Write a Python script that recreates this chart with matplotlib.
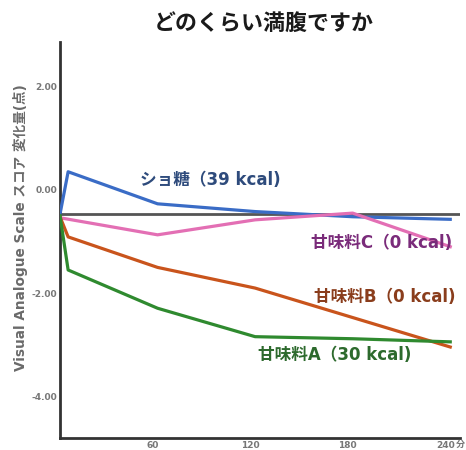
import matplotlib
matplotlib.use("Agg")
import matplotlib.pyplot as plt
import matplotlib.transforms as mtransforms

FAMILY = ['DejaVu Sans', 'Noto Sans CJK JP']
plt.rcParams['font.family'] = FAMILY

# Time after intake (minutes)
minutes = [0, 5, 60, 120, 180, 240]
minutes_c = [0, 60, 120, 180, 240]

# VAS fullness score change (points)
sucrose = [-0.47, 0.35, -0.27, -0.42, -0.52, -0.57]
sweetener_c = [-0.54, -0.87, -0.58, -0.45, -1.10]
sweetener_b = [-0.52, -0.91, -1.50, -1.90, -2.47, -3.04]
sweetener_a = [-0.50, -1.55, -2.29, -2.84, -2.88, -2.94]
baseline = -0.47

x_ticks = [60, 120, 180, 240]
x_ticklabels = ["60", "120", "180", "240"]
y_ticks = [2.0, 0.0, -2.0, -4.0]
y_ticklabels = ["2.00", "0.00", "-2.00", "-4.00"]

fig = plt.figure(figsize=(4.66, 4.5), dpi=100)
ax = fig.add_axes([60/466, 12/450, 400/466, 396/450])

ax.axhline(baseline, color="#555555", lw=2.0, zorder=1)
ax.plot(minutes, sucrose, color="#3a6cc6", lw=2.3, zorder=3)
ax.plot(minutes_c, sweetener_c, color="#e36fb4", lw=2.3, zorder=3)
ax.plot(minutes, sweetener_b, color="#c9541c", lw=2.3, zorder=3)
ax.plot(minutes, sweetener_a, color="#2f8a2f", lw=2.3, zorder=3)

ax.set_xlim(0, 246)
ax.set_ylim(-4.8, 2.86)

ax.set_xticks(x_ticks)
ax.set_xticklabels(x_ticklabels)
ax.set_yticks(y_ticks)
ax.set_yticklabels(y_ticklabels)
ax.tick_params(length=0, labelsize=6.5, labelcolor="#777777", pad=2)
shift = mtransforms.ScaledTranslation(-5/100, 0, fig.dpi_scale_trans)
for lab in ax.get_xticklabels():
    lab.set_fontweight("bold")
    lab.set_transform(lab.get_transform() + shift)
for lab in ax.get_yticklabels():
    lab.set_fontweight("bold")

for side in ("top", "right"):
    ax.spines[side].set_visible(False)
for side in ("left", "bottom"):
    ax.spines[side].set_color("#333333")
    ax.spines[side].set_linewidth(2.0)

fig.text(456/466, 1 - 444/450, "分", ha="left", va="center",
         fontsize=6.5, color="#777777", fontweight="bold")

ax.set_ylabel("Visual Analogue Scale スコア 変化量(点)", fontsize=9.8,
              color="#6a6a6a", fontweight="bold")
ax.yaxis.set_label_coords(-0.08, 0.53)

fig.text(0.565, 0.947, "どのくらい満腹ですか", ha="center", va="center",
         fontsize=15.8, fontweight="bold", color="#1a1a1a")

label_kw = dict(fontsize=12, fontweight="bold", va="center")
ax.text(49, 0.19, "ショ糖（39 kcal)", color="#2e4b7c", ha="left", **label_kw)
ax.text(241, -1.03, "甘味料C（0 kcal)", color="#7a2b7a", ha="right", **label_kw)
ax.text(243, -2.07, "甘味料B（0 kcal)", color="#8a3d1c", ha="right", **label_kw)
ax.text(122, -3.19, "甘味料A（30 kcal)", color="#2d6a2d", ha="left", **label_kw)

fig.savefig("out.png", dpi=100)
